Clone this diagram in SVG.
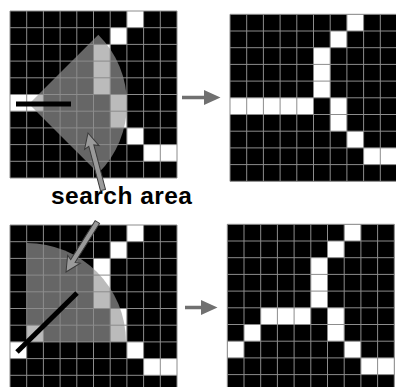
<svg xmlns="http://www.w3.org/2000/svg" xmlns:xlink="http://www.w3.org/1999/xlink" width="396" height="387" viewBox="0 0 396 387">
  <style>
    .bg { fill: #000; }
    .w { fill: #fff; }
    .gl { fill: none; stroke: #8c8c8c; stroke-width: 1; }
    .wedge { fill: #999; fill-opacity: 0.667; }
    .feat { stroke: #000; stroke-width: 5; fill: none; }
    .ptr { fill: #9a9a9a; stroke: #3a3a3a; stroke-width: 1; stroke-linejoin: miter; }
    .conn { fill: #707070; }
    .lbl { font-family: "Liberation Sans", Arial, sans-serif; font-weight: bold; font-size: 24.5px; fill: #000; }
  </style>
  <defs>
    <path id="grid" class="gl" d="M0,0V167M16.7,0V167M33.4,0V167M50.1,0V167M66.8,0V167M83.5,0V167M100.2,0V167M116.9,0V167M133.6,0V167M150.3,0V167M167,0V167M0,0H167M0,16.7H167M0,33.4H167M0,50.1H167M0,66.8H167M0,83.5H167M0,100.2H167M0,116.9H167M0,133.6H167M0,150.3H167M0,167H167"/>
    <path id="ptr" d="M0,0 L-15,-7.5 L-13,-2.6 L-59,-2.6 L-59,2.6 L-13,2.6 L-15,7.5 Z"/>
  </defs>

  <g id="grid-top-left" transform="translate(10,11)">
    <rect class="bg" width="167" height="167"/>
    <rect class="w" x="116.9" y="0" width="16.7" height="16.7"/>
    <rect class="w" x="100.2" y="16.7" width="16.7" height="16.7"/>
    <rect class="w" x="83.5" y="33.4" width="16.7" height="50.1"/>
    <rect class="w" x="0" y="83.5" width="33.4" height="16.7"/>
    <rect class="w" x="100.2" y="83.5" width="16.7" height="33.4"/>
    <rect class="w" x="116.9" y="116.9" width="16.7" height="16.7"/>
    <rect class="w" x="133.6" y="133.6" width="33.4" height="16.7"/>
    <path class="wedge" d="M19,93 L88.3,23.7 A98,98 0 0 1 88.3,162.3 Z"/>
    <use xlink:href="#grid"/>
    <line class="feat" x1="6" y1="93" x2="61" y2="93"/>
  </g>

  <g id="grid-top-right" transform="translate(230,14.3)">
    <rect class="bg" width="167" height="167"/>
    <rect class="w" x="116.9" y="0" width="16.7" height="16.7"/>
    <rect class="w" x="100.2" y="16.7" width="16.7" height="16.7"/>
    <rect class="w" x="83.5" y="33.4" width="16.7" height="50.1"/>
    <rect class="w" x="0" y="83.5" width="83.5" height="16.7"/>
    <rect class="w" x="100.2" y="83.5" width="16.7" height="33.4"/>
    <rect class="w" x="116.9" y="116.9" width="16.7" height="16.7"/>
    <rect class="w" x="133.6" y="133.6" width="33.4" height="16.7"/>
    <use xlink:href="#grid"/>
  </g>

  <g id="grid-bottom-left" transform="translate(10,225)">
    <rect class="bg" width="167" height="167"/>
    <rect class="w" x="116.9" y="0" width="16.7" height="16.7"/>
    <rect class="w" x="100.2" y="16.7" width="16.7" height="16.7"/>
    <rect class="w" x="83.5" y="33.4" width="16.7" height="50.1"/>
    <rect class="w" x="100.2" y="83.5" width="16.7" height="33.4"/>
    <rect class="w" x="16.7" y="100.2" width="16.7" height="16.7"/>
    <rect class="w" x="0" y="116.9" width="16.7" height="16.7"/>
    <rect class="w" x="116.9" y="116.9" width="16.7" height="16.7"/>
    <rect class="w" x="133.6" y="133.6" width="33.4" height="16.7"/>
    <path class="wedge" d="M17,117 L17,18 A99,99 0 0 1 116,117 Z"/>
    <use xlink:href="#grid"/>
    <line class="feat" x1="7" y1="127" x2="67" y2="68"/>
  </g>

  <g id="grid-bottom-right" transform="translate(227.3,224.3)">
    <rect class="bg" width="167" height="167"/>
    <rect class="w" x="116.9" y="0" width="16.7" height="16.7"/>
    <rect class="w" x="100.2" y="16.7" width="16.7" height="16.7"/>
    <rect class="w" x="83.5" y="33.4" width="16.7" height="50.1"/>
    <rect class="w" x="33.4" y="83.5" width="50.1" height="16.7"/>
    <rect class="w" x="100.2" y="83.5" width="16.7" height="33.4"/>
    <rect class="w" x="16.7" y="100.2" width="16.7" height="16.7"/>
    <rect class="w" x="0" y="116.9" width="16.7" height="16.7"/>
    <rect class="w" x="116.9" y="116.9" width="16.7" height="16.7"/>
    <rect class="w" x="133.6" y="133.6" width="33.4" height="16.7"/>
    <use xlink:href="#grid"/>
  </g>

  <g id="label-search-area">
    <text class="lbl" x="51" y="204" textLength="141" lengthAdjust="spacing">search area</text>
    <use class="ptr" xlink:href="#ptr" transform="translate(88,133) rotate(-104.7)"/>
    <use class="ptr" xlink:href="#ptr" transform="translate(66,272) rotate(122.1)"/>
  </g>

  <g id="connectors">
    <path class="conn" d="M182,95.8 L204,95.8 L204,90 L220.5,97.5 L204,105 L204,99.2 L182,99.2 Z"/>
    <path class="conn" d="M185,305.8 L201,305.8 L201,300 L217.5,307.5 L201,315 L201,309.2 L185,309.2 Z"/>
  </g>
</svg>
